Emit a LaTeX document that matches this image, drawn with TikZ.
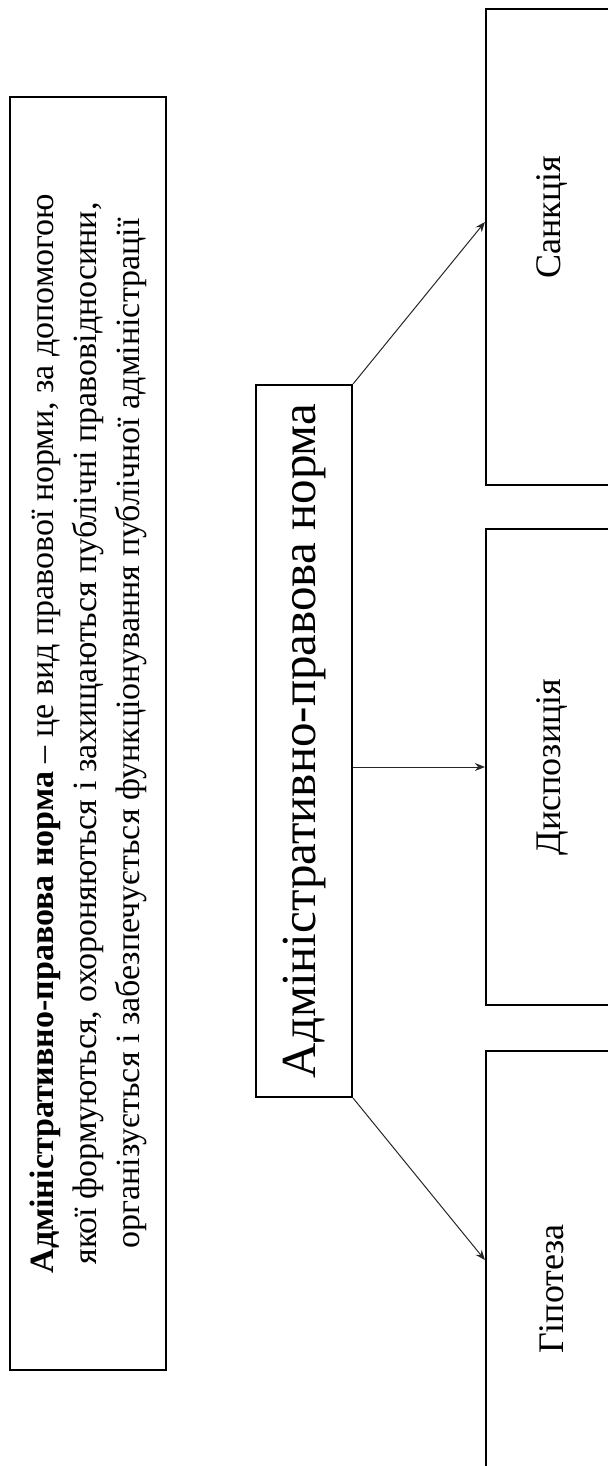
\documentclass[tikz,border=0pt]{standalone}
\usepackage{fontspec}
\setmainfont{Liberation Serif}
\usetikzlibrary{arrows.meta,calc}
\tikzset{
  frame/.style={draw=black, line width=1.1pt, inner sep=0pt, fill=none},
  link/.style={draw=black!85, line width=0.5pt, -{Stealth[length=5pt,width=4pt]}},
  deftext/.style={font=\fontsize{17}{21.5}\selectfont},
  labeltext/.style={font=\fontsize{18}{22}\selectfont},
  maintext/.style={font=\fontsize{24.5}{29}\selectfont}
}
\begin{document}
\begin{tikzpicture}
  \useasboundingbox (0,0) rectangle (304pt,-733pt);
  % definition panel on the left
  \node[frame, deftext, minimum width=78pt, minimum height=636.5pt] (def) at (44pt,-366.75pt)
    {\rotatebox{90}{\begin{tabular}{@{}c@{}}
      \textbf{Адміністративно-правова норма} – це вид правової норми, за допомогою\\
      якої формуються, охороняються і захищаються публічні правовідносини,\\
      організується і забезпечується функціонування публічної адміністрації
    \end{tabular}}};
  % central concept
  \node[frame, maintext, minimum width=48pt, minimum height=356pt] (norm) at (152pt,-370.5pt)
    {\rotatebox{90}{Адміністративно-правова норма}};
  % the three elements of the norm (the first label sits a little above centre)
  \node[frame, labeltext, minimum width=66pt, minimum height=238pt] (sank) at (276pt,-123.5pt)
    {\rotatebox{90}{\hspace*{30pt}Санкція}};
  \node[frame, labeltext, minimum width=66pt, minimum height=238pt] (disp) at (276pt,-383.5pt)
    {\rotatebox{90}{Диспозиція}};
  \node[frame, labeltext, minimum width=66pt, minimum height=238pt] (hyp) at (276pt,-644.5pt)
    {\rotatebox{90}{Гіпотеза}};
  % arrow entry points on the element boxes
  \coordinate (sankIn) at ([yshift=12.5pt]sank.west);
  \coordinate (hypIn) at ([yshift=14.5pt]hyp.west);
  \draw[link] (norm.north east) -- (sankIn);
  \draw[link] (norm.east |- disp.west) -- (disp.west);
  \draw[link] (norm.south east) -- (hypIn);
\end{tikzpicture}
\end{document}
